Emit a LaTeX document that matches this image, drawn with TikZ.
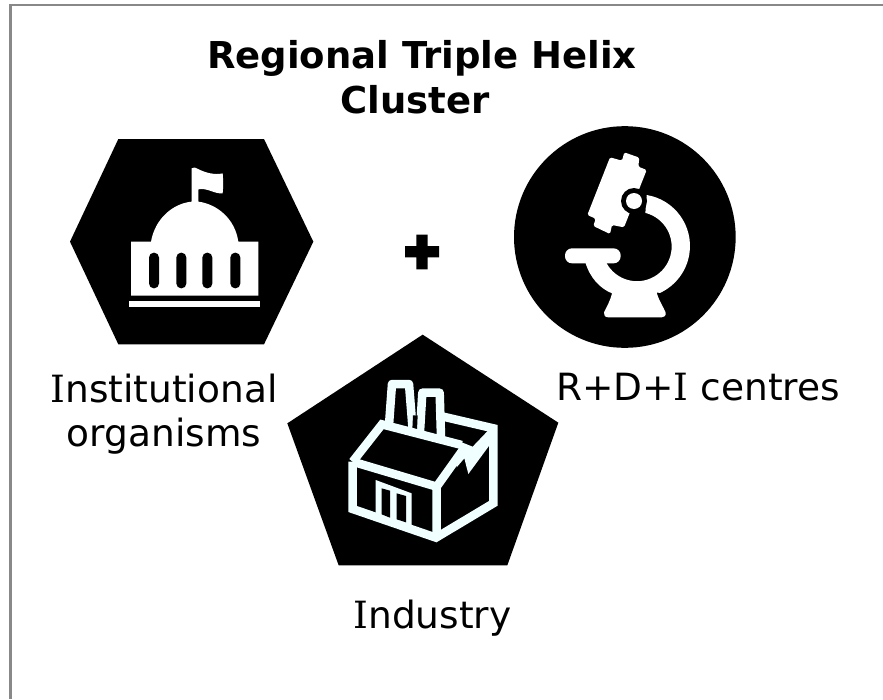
\documentclass[tikz,border=0pt]{standalone}
\usepackage{fontspec}
\setmainfont{DejaVu Sans}
\newfontfamily\serifcap{DejaVu Serif}
\newcommand{\capI}{{\serifcap I}}
\definecolor{frame}{RGB}{136,136,136}
\definecolor{factory}{RGB}{240,255,255}
\tikzset{
  x=1pt,y=-1pt,
  badge/.style={fill=black,draw=none},
  glyph/.style={fill=white,draw=none},
  azure/.style={fill=factory,draw=none},
  ink/.style={draw=factory,line width=8.5pt,line join=miter,line cap=butt,fill=none},
  inkthin/.style={draw=factory,line width=8.5pt,line join=round,fill=none},
  zoomed/.style={shift={#1},scale=1/3},
  label/.style={font=\fontsize{37.5}{43.7}\selectfont,align=center,inner sep=0pt,text=black},
  titletext/.style={font=\fontsize{37}{45}\selectfont\bfseries,align=center,inner sep=0pt,text=black},
}
\begin{document}
\begin{tikzpicture}
\useasboundingbox (0,0) rectangle (883,699);
\draw[frame,line width=2.6pt] (10.3,699) -- (10.3,5) -- (883,5);
\node[titletext] (title) at (422,77.5) {Regional Triple Helix\\Cluster\hspace*{14pt}};
% hexagon and capitol
\begin{scope}[zoomed={(60,130)}]
\path[badge] (175,27) -- (612,27) -- (760,335) -- (612,643) -- (175,643) -- (30,335) -- cycle;
\path[glyph] (213,335) -- (273,335) .. controls (285,265) and (340,220) .. (395,215) -- (395,115) .. controls (400,110) and (408,113) .. (412,116) .. controls (435,128) and (465,136) .. (488,130) .. controls (490,150) and (490,170) .. (488,190) .. controls (465,193) and (440,172) .. (415,178) -- (415,215) .. controls (470,222) and (525,265) .. (535,335) -- (595,335) -- (595,497) -- (213,497) -- cycle;
\foreach \cx in {282,364,442,526}{
  \path[fill=black,rounded corners=4.8pt] (\cx-15,368) rectangle (\cx+15,475);
}
\path[glyph] (208,512) rectangle (600,532);
\end{scope}
% plus
\begin{scope}[zoomed={(390,230)}]
\path[badge] (79,14) -- (113,14) -- (113,48) -- (147,48) -- (147,82) -- (113,82) -- (113,118) -- (79,118) -- (79,82) -- (45,82) -- (45,48) -- (79,48) -- cycle;
\end{scope}
% circle and microscope
\begin{scope}[zoomed={(500,120)}]
\path[badge] (374.5,351) circle[radius=332.5];
% arm
\path[glyph] (440,225) arc[start angle=-80.7,end angle=65,radius=155]
  -- (470,518) .. controls (478,545) and (490,560) .. (497,578) .. controls (498,588) and (492,592) .. (485,592)
  -- (325,592) .. controls (315,592) and (310,585) .. (312,577) .. controls (320,560) and (330,545) .. (336,520)
  .. controls (300,505) and (270,475) .. (255,424) -- (320,424) -- (320,430)
  arc[start angle=151,end angle=-76,radius=104] -- cycle;
% stage
\path[glyph,rounded corners=7pt] (195,385) rectangle (362,430);
% tube
\path[glyph,rounded corners=1.5pt] (330,112) -- (366,122) -- (373,97) -- (418,113) -- (415,140) -- (440,150) -- (372,322) -- (336,315) -- (330,342) -- (280,318) -- (287,296) -- (262,285) -- cycle;
\path[badge] (402,243) circle[radius=39];
\path[glyph] (402,243) circle[radius=24];
\end{scope}
% pentagon and factory
\begin{scope}[zoomed={(280,330)}]
\path[badge] (428,14) -- (835,278) -- (682,706) -- (176,706) -- (22,280) -- cycle;
% chimneys
\path[inkthin] (327,285) -- (336,162) -- (387,162) -- (398,300);
\path[inkthin] (420,305) -- (427,188) -- (479,188) -- (483,320);
\path[badge] (399,256) -- (413,256) -- (411,300) -- (397,298) -- cycle;
% body outline
\path[ink] (218,395) -- (218,537) -- (468,623) -- (640,520) -- (640,295) -- (490,260);
\path[ink] (218,395) -- (306,283) -- (545,345);
\path[ink] (218,395) -- (470,470) -- (470,620);
\path[ink] (470,470) -- (552,355);
% zigzag
\path[azure] (540,335) -- (578,350) -- (640,285) -- (640,330) -- (565,432) -- (553,385) -- (530,412) -- cycle;
% door
\path[azure] (287,450) -- (395,490) -- (395,590) -- (287,552) -- cycle;
\path[badge] (305,475) -- (330,482) -- (330,563) -- (305,553) -- cycle;
\path[badge] (350,490) -- (378,498) -- (378,577) -- (350,568) -- cycle;
\end{scope}
\node[label] (inst) at (164,414) {\capI nstitutional\\organisms};
\node[label,anchor=base] (rdi) at (698,400) {R+D+\capI{} centres};
\node[label,anchor=base] (ind) at (432.5,628) {\capI ndustry};
\end{tikzpicture}
\end{document}
